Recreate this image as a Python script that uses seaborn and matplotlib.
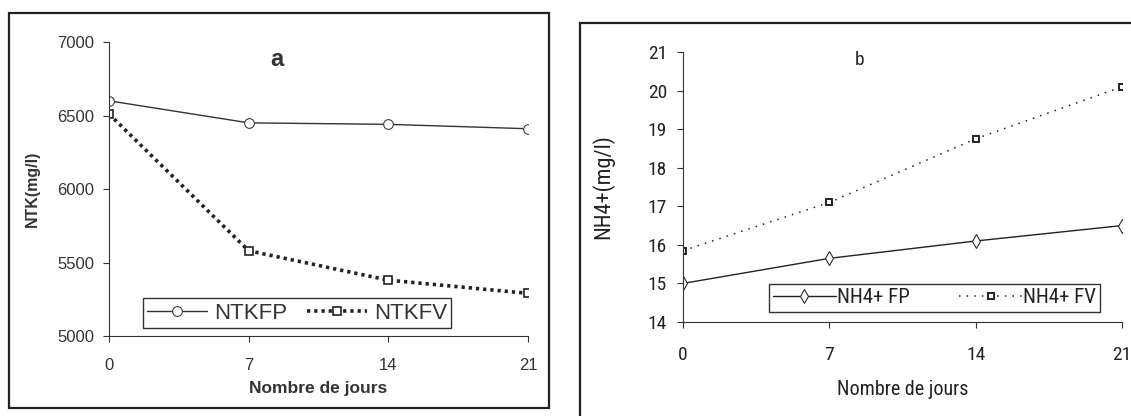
import pandas as pd
import seaborn as sns
import matplotlib.pyplot as plt
from matplotlib.patches import Rectangle
from matplotlib import font_manager

# --- Données ---
jours = [0, 7, 14, 21]
ntk_fp = [6600, 6450, 6440, 6410]
ntk_fv = [6510, 5580, 5380, 5290]
nh4_fp = [15.0, 15.65, 16.1, 16.5]
nh4_fv = [15.85, 17.1, 18.75, 20.1]

sns.set_style("ticks")
plt.rcParams['font.family'] = ['Liberation Sans', 'DejaVu Sans']

# police étroite pour le graphique b (si disponible)
fonts = font_manager.fontManager.ttflist
names = {f.name for f in fonts}
narrow, stretch, nscale = 'Liberation Sans', 'normal', 0.85
for cand in ['Liberation Sans Narrow', 'Roboto Condensed', 'Open Sans Condensed']:
    if cand in names:
        narrow, nscale = cand, 1.0
        break
else:
    if any(f.name == 'DejaVu Sans' and f.stretch == 'condensed' for f in fonts):
        narrow, stretch, nscale = 'DejaVu Sans', 'condensed', 0.9


def nfont(size):
    return {'family': narrow, 'stretch': stretch, 'size': size * nscale}


fig = plt.figure(figsize=(11.31, 4.16), dpi=100)

# cadres des deux graphiques
fig.patches.append(Rectangle((0.008, 0.0192), 0.4775, 0.9495, transform=fig.transFigure,
                             fill=False, edgecolor='#222222', linewidth=1.6))
fig.patches.append(Rectangle((0.5128, -0.05), 0.52, 0.9947, transform=fig.transFigure,
                             fill=False, edgecolor='#222222', linewidth=1.6))

# --- Graphique a ---
ax1 = fig.add_axes([0.0964, 0.1923, 0.3705, 0.7067])
df_a = pd.DataFrame({'jours': jours, 'NTKFP': ntk_fp, 'NTKFV': ntk_fv})
sns.lineplot(data=df_a, x='jours', y='NTKFP', ax=ax1, color='#333333', lw=1,
             marker='o', markersize=7, markerfacecolor='white', markeredgecolor='#333333',
             label='NTKFP')
sns.lineplot(data=df_a, x='jours', y='NTKFV', ax=ax1, color='#222222', lw=2.6,
             marker='s', markersize=6, markerfacecolor='white', markeredgecolor='#222222',
             markeredgewidth=1.2, label='NTKFV')
ax1.lines[1].set_dashes((0.9, 1.1))
ax1.set_xlim(0, 21)
ax1.set_ylim(5000, 7000)
ax1.set_xticks(jours)
ax1.set_yticks(range(5000, 7001, 500))
ax1.tick_params(labelsize=12, length=4.5, color='#333333', labelcolor='#333333')
ax1.tick_params(axis='x', pad=11)
ax1.tick_params(axis='y', pad=6)
for s in ['top', 'right']:
    ax1.spines[s].set_visible(False)
for s in ['left', 'bottom']:
    ax1.spines[s].set_color('#333333')
ax1.set_xlabel('Nombre de jours', fontsize=12.5, fontweight='bold', labelpad=6, color='#333333')
ax1.set_ylabel('NTK(mg/l)', fontsize=11.5, fontweight='bold', labelpad=13, color='#333333')
ax1.text(0.40, 0.94, 'a', transform=ax1.transAxes, fontsize=17, fontweight='bold',
         ha='center', va='center', color='#333333')
leg1 = ax1.legend(loc='center', bbox_to_anchor=(0.449, 0.078), ncol=2, fontsize=16,
                  handlelength=2.7, columnspacing=0.9, handletextpad=0.3,
                  fancybox=False, edgecolor='#333333', framealpha=1,
                  borderpad=0.2, labelcolor='#333333')
leg1.get_frame().set_linewidth(1)

# --- Graphique b ---
ax2 = fig.add_axes([0.6039, 0.2260, 0.3882, 0.6490])
df_b = pd.DataFrame({'jours': jours, 'FP': nh4_fp, 'FV': nh4_fv})
sns.lineplot(data=df_b, x='jours', y='FP', ax=ax2, color='#222222', lw=1,
             marker='d', markersize=7, markerfacecolor='white', markeredgecolor='#222222',
             label='NH4+ FP')
sns.lineplot(data=df_b, x='jours', y='FV', ax=ax2, color='#222222', lw=1.1,
             marker='s', markersize=5, markerfacecolor='white', markeredgecolor='#222222',
             markeredgewidth=1.4, label='NH4+ FV')
ax2.lines[1].set_dashes((1, 4))
ax2.set_xlim(0, 21)
ax2.set_ylim(14, 21)
ax2.set_xticks(jours)
ax2.set_yticks(range(14, 22))
ax2.tick_params(length=4.5, color='#333333', labelcolor='#222222')
ax2.tick_params(axis='x', pad=13)
ax2.tick_params(axis='y', pad=7)
for lab in ax2.get_xticklabels() + ax2.get_yticklabels():
    lab.set_fontproperties(font_manager.FontProperties(**nfont(14)))
for s in ['top', 'right']:
    ax2.spines[s].set_visible(False)
for s in ['left', 'bottom']:
    ax2.spines[s].set_color('#333333')
ax2.set_xlabel('Nombre de jours', fontdict=nfont(14.5), labelpad=11, color='#222222')
ax2.set_ylabel('NH4+(mg/l)', fontdict=nfont(16), labelpad=24, color='#222222')
ax2.text(0.403, 0.97, 'b', transform=ax2.transAxes, fontdict=nfont(14),
         ha='center', va='center', color='#222222')
leg2 = ax2.legend(loc='center', bbox_to_anchor=(0.573, 0.089), ncol=2,
                  prop=font_manager.FontProperties(**nfont(15)),
                  handlelength=3.0, columnspacing=2.4, handletextpad=0.05,
                  fancybox=False, edgecolor='#333333', framealpha=1,
                  borderpad=0.2, borderaxespad=0, labelcolor='#222222')
leg2.get_frame().set_linewidth(1)

plt.savefig('out.png', dpi=100)
